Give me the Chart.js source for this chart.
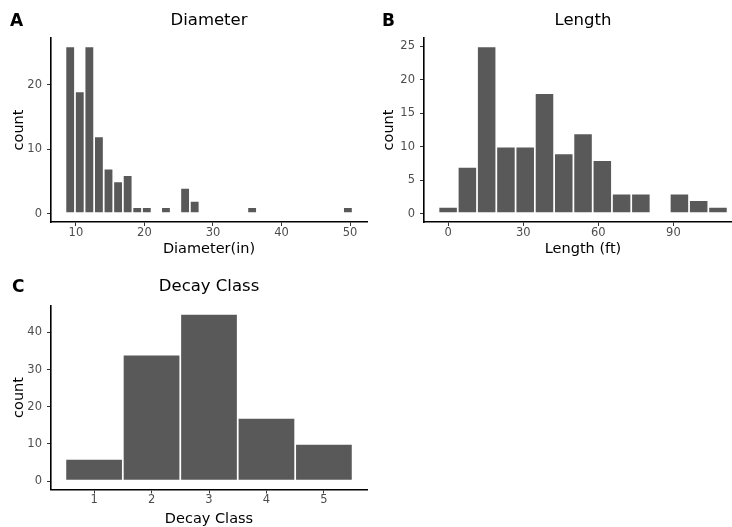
<!DOCTYPE html>
<html>
<head>
<meta charset="utf-8">
<script src="https://cdn.jsdelivr.net/npm/chart.js"></script>
<style>
  * { margin: 0; padding: 0; box-sizing: border-box; }
  body {
    width: 732px;
    height: 527px;
    overflow: hidden;
    position: relative;
    background: #ffffff;
    font-family: 'DejaVu Sans', sans-serif;
  }
  canvas { position: absolute; }
  .tag {
    position: absolute;
    font-size: 17px;
    font-weight: bold;
    line-height: 17px;
    color: #000;
  }
</style>
</head>
<body>
  <canvas id="diameter" width="370" height="265" style="left:0;top:0"></canvas>
  <canvas id="length" width="372" height="265" style="left:370px;top:0"></canvas>
  <canvas id="decay" width="370" height="262" style="left:0;top:265px"></canvas>

  <div class="tag" style="left:10px;top:12px">A</div>
  <div class="tag" style="left:382px;top:12px">B</div>
  <div class="tag" style="left:12px;top:278px">C</div>

<script>
  // Diameter histogram (30 bins)
  const diameterBinStart = 9.17;   // centre of first bin, inches
  const diameterBinWidth = 1.397;
  const diameterCounts = [26, 19, 26, 12, 7, 5, 6, 1, 1, 0, 1, 0, 4, 2, 0,
                          0, 0, 0, 0, 1, 0, 0, 0, 0, 0, 0, 0, 0, 0, 1];
  const diameterTicks = [10, 20, 30, 40, 50];
  const diameterCountTicks = [0, 10, 20];

  // Length histogram (15 bins)
  const lengthBinStart = 0;        // centre of first bin, feet
  const lengthBinWidth = 7.7;
  const lengthCounts = [1, 7, 25, 10, 10, 18, 9, 12, 8, 3, 3, 0, 3, 2, 1];
  const lengthTicks = [0, 30, 60, 90];
  const lengthCountTicks = [0, 5, 10, 15, 20, 25];

  // Decay class bar chart
  const decayClasses = [1, 2, 3, 4, 5];
  const decayCounts = [6, 34, 45, 17, 10];
  const decayCountTicks = [0, 10, 20, 30, 40];

  const FONT = "'DejaVu Sans', sans-serif";

  function binPoints(start, width, counts) {
    return counts.map((c, i) => ({ x: start + width * i, y: c }));
  }

  function axis(o) {
    return {
      type: 'linear',
      bounds: 'data',
      offset: false,
      min: o.min,
      max: o.max,
      afterBuildTicks: s => { s.ticks = o.ticks.map(v => ({ value: v })); },
      afterFit: s => { if (o.width) s.width = o.width; if (o.height) s.height = o.height; },
      ticks: {
        color: '#4d4d4d',
        padding: o.tickPad,
        font: { family: FONT, size: 11.5 }
      },
      grid: {
        offset: false,
        drawOnChartArea: false,
        drawTicks: true,
        tickLength: 4,
        color: '#333333',
        lineWidth: 1
      },
      border: { display: true, color: '#000000', width: 1.6 },
      title: {
        display: true,
        text: o.title,
        color: '#000000',
        font: { family: FONT, size: 14.5, lineHeight: 1 },
        padding: o.titlePad
      }
    };
  }

  function histogram(id, p) {
    return new Chart(document.getElementById(id), {
      type: 'bar',
      data: {
        datasets: [{
          data: p.points,
          backgroundColor: '#595959',
          borderColor: '#ffffff',
          borderWidth: 1.2,
          borderSkipped: false,
          barPercentage: 1,
          categoryPercentage: 1
        }]
      },
      options: {
        responsive: false,
        animation: false,
        layout: { padding: { left: 0, right: p.padRight, top: 0, bottom: 0 } },
        plugins: {
          legend: { display: false },
          tooltip: { enabled: false },
          title: {
            display: true,
            text: p.title,
            fullSize: false,
            color: '#000000',
            font: { family: FONT, size: 16.5, weight: 'normal', lineHeight: 1.2 },
            padding: p.titlePad
          }
        },
        scales: {
          x: axis(p.x),
          y: axis(p.y)
        }
      }
    });
  }

  histogram('diameter', {
    title: 'Diameter',
    titlePad: { top: 11.1, bottom: 7.1 },
    padRight: 3,
    points: binPoints(diameterBinStart, diameterBinWidth, diameterCounts),
    x: { min: 6.37, max: 52.47, ticks: diameterTicks, height: 43, tickPad: 0,
         title: 'Diameter(in)', titlePad: { top: 0, bottom: 8.2 } },
    y: { min: -1.3, max: 27.3, ticks: diameterCountTicks, width: 51, tickPad: 5,
         title: 'count', titlePad: { top: 11.7, bottom: 0 } }
  });

  histogram('length', {
    title: 'Length',
    titlePad: { top: 11.1, bottom: 7.1 },
    padRight: 0,
    points: binPoints(lengthBinStart, lengthBinWidth, lengthCounts),
    x: { min: -9.63, max: 117.4, ticks: lengthTicks, height: 43, tickPad: 0,
         title: 'Length (ft)', titlePad: { top: 0, bottom: 8.2 } },
    y: { min: -1.25, max: 26.25, ticks: lengthCountTicks, width: 54, tickPad: 5,
         title: 'count', titlePad: { top: 11.7, bottom: 0 } }
  });

  histogram('decay', {
    title: 'Decay Class',
    titlePad: { top: 11.4, bottom: 9.3 },
    padRight: 3,
    points: decayClasses.map((c, i) => ({ x: c, y: decayCounts[i] })),
    x: { min: 0.25, max: 5.75, ticks: decayClasses, height: 37.5, tickPad: 0,
         title: 'Decay Class', titlePad: { top: 0, bottom: 0.4 } },
    y: { min: -2.25, max: 47.25, ticks: decayCountTicks, width: 51, tickPad: 5,
         title: 'count', titlePad: { top: 11.7, bottom: 0 } }
  });
</script>
</body>
</html>
